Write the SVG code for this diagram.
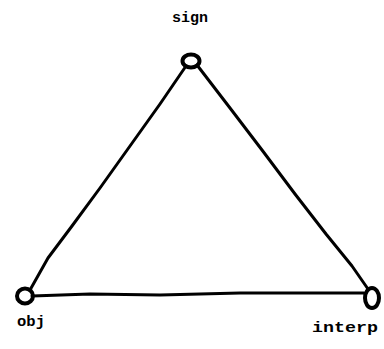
<svg xmlns="http://www.w3.org/2000/svg" width="384" height="349" viewBox="0 0 384 349">
<style>
.n{fill:none;stroke:#000;stroke-width:4}
.e{fill:none;stroke:#000;stroke-width:3;stroke-linecap:round;stroke-linejoin:round}
.t{font-family:"Liberation Mono","DejaVu Sans Mono",monospace;font-size:14px;font-weight:bold;fill:#000}
</style>
<rect width="384" height="349" fill="#fff"/>
<g id="connectors">
<polyline class="e" points="186,66 160,104 130,146 100,188 72,226 48,258 30,290"/>
<polyline class="e" points="197,65 230,108 262,150 295,194 326,234 352,266 368,289"/>
<polyline class="e" points="32,296 90,294 160,295 240,293 300,293 364,293"/>
</g>
<g id="sign">
<ellipse class="n" cx="191" cy="61" rx="8.5" ry="6.5"/>
<text class="t" x="190" y="22" text-anchor="middle" textLength="36" lengthAdjust="spacingAndGlyphs">sign</text>
</g>
<g id="obj">
<ellipse class="n" cx="25" cy="296" rx="8" ry="7.5"/>
<text class="t" x="31" y="326" text-anchor="middle" textLength="28" lengthAdjust="spacingAndGlyphs">obj</text>
</g>
<g id="interp">
<ellipse class="n" cx="372" cy="298" rx="7" ry="10"/>
<text class="t" x="345" y="332" text-anchor="middle" textLength="66" lengthAdjust="spacingAndGlyphs">interp</text>
</g>
</svg>
